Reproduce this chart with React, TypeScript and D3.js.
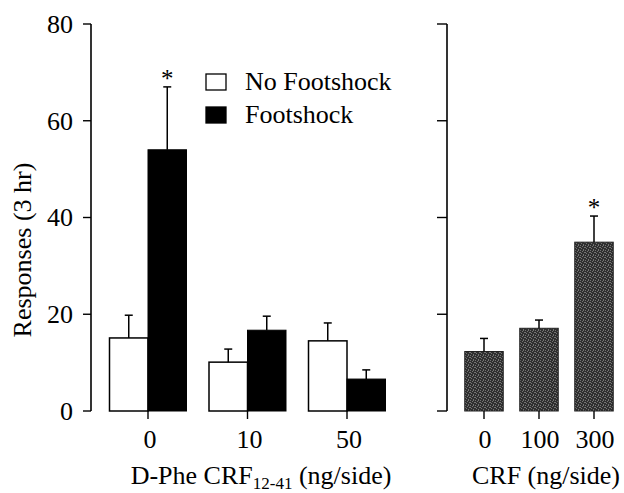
import React from "react";
import * as d3 from "d3";

const leftCategories = ["0", "10", "50"];
const noFootshock = [15.1, 10.1, 14.5];
const noFootshockSem = [4.7, 2.7, 3.7];
const footshock = [54.0, 16.7, 6.6];
const footshockSem = [13.0, 2.9, 1.9];
const noFootshockStars = [false, false, false];
const footshockStars = [true, false, false];

const rightCategories = ["0", "100", "300"];
const crf = [12.3, 17.1, 34.9];
const crfSem = [2.7, 1.7, 5.4];
const crfStars = [false, false, true];

const yTicks = [0, 20, 40, 60, 80];
const legendLabels = ["No Footshock", "Footshock"];

const FONT = "Liberation Serif";
const T = (size: number) => ({ fontFamily: FONT, fontSize: size });

const y = d3.scaleLinear().domain([0, 80]).range([411, 24]);
const xl = d3.scalePoint<string>().domain(leftCategories).range([148, 347]);
const xr = d3.scalePoint<string>().domain(rightCategories).range([484, 594]);
const bw = 38.5;

function ErrBar({ cx, v, sem, star }: { cx: number; v: number; sem: number; star: boolean }) {
  const top = y(v + sem);
  return (
    <g>
      <line x1={cx} x2={cx} y1={y(v)} y2={top} stroke="#000" strokeWidth={1.5} />
      <line x1={cx - 4} x2={cx + 4} y1={top} y2={top} stroke="#000" strokeWidth={1.5} />
      {star && (
        <text x={cx} y={top} textAnchor="middle" style={T(25)}>
          *
        </text>
      )}
    </g>
  );
}

function Axis({ x, tickLen, labels }: { x: number; tickLen: number; labels: boolean }) {
  return (
    <g>
      <line x1={x} x2={x} y1={y(0)} y2={y(80)} stroke="#000" strokeWidth={1.6} />
      {yTicks.map((t) => (
        <g key={t}>
          <line x1={x - tickLen} x2={x} y1={y(t)} y2={y(t)} stroke="#000" strokeWidth={1.4} />
          {labels && (
            <text x={x - tickLen - 10} y={y(t)} dy="0.34em" textAnchor="end" style={T(26)}>
              {t}
            </text>
          )}
        </g>
      ))}
    </g>
  );
}

export default function App() {
  const dots = [
    [0, 0], [2, 1], [4, 2], [1, 3], [3, 4], [0, 2], [3, 0],
  ];
  const legendFills = ["#fff", "#000"];
  return (
    <svg
      width={624}
      height={493}
      style={{ position: "absolute", left: 0, top: 0, background: "#fff", display: "block" }}
    >
      <defs>
        <pattern id="speckle" patternUnits="userSpaceOnUse" width={5} height={5}>
          <rect width={5} height={5} fill="#2f2f2f" />
          {dots.map(([dx, dy], i) => (
            <rect key={i} x={dx} y={dy} width={1} height={1} fill="#747474" />
          ))}
        </pattern>
      </defs>

      <Axis x={91} tickLen={8} labels={true} />
      <Axis x={447} tickLen={10} labels={false} />

      {leftCategories.map((c, i) => {
        const cx = xl(c)!;
        return (
          <g key={c}>
            <rect x={cx - bw} y={y(noFootshock[i])} width={bw} height={y(0) - y(noFootshock[i])}
              fill="#fff" stroke="#000" strokeWidth={1.5} />
            <ErrBar cx={cx - bw / 2} v={noFootshock[i]} sem={noFootshockSem[i]} star={noFootshockStars[i]} />
            <rect x={cx} y={y(footshock[i])} width={bw} height={y(0) - y(footshock[i])}
              fill="#000" stroke="#000" strokeWidth={1} />
            <ErrBar cx={cx + bw / 2} v={footshock[i]} sem={footshockSem[i]} star={footshockStars[i]} />
            <line x1={cx} x2={cx} y1={y(0)} y2={y(0) + 8} stroke="#000" strokeWidth={1.4} />
            <text x={cx + 2} y={448} textAnchor="middle" style={T(26)}>{c}</text>
          </g>
        );
      })}

      {rightCategories.map((c, i) => {
        const cx = xr(c)!;
        return (
          <g key={c}>
            <rect x={cx - bw / 2} y={y(crf[i])} width={bw} height={y(0) - y(crf[i])}
              fill="url(#speckle)" stroke="#222" strokeWidth={1} />
            <ErrBar cx={cx} v={crf[i]} sem={crfSem[i]} star={crfStars[i]} />
            <line x1={cx} x2={cx} y1={y(0)} y2={y(0) + 8} stroke="#000" strokeWidth={1.4} />
            <text x={cx + 1} y={448} textAnchor="middle" style={T(26)}>{c}</text>
          </g>
        );
      })}

      {legendLabels.map((lab, i) => {
        const ly = 74 + i * 33;
        return (
          <g key={lab}>
            <rect x={206} y={ly} width={20} height={16} fill={legendFills[i]} stroke="#000" strokeWidth={1.3} />
            <text x={245} y={ly + 16} style={T(26)}>{lab}</text>
          </g>
        );
      })}

      <text transform="translate(31,250) rotate(-90)" textAnchor="middle" style={T(26)}>
        Responses (3 hr)
      </text>

      <text x={261} y={484} textAnchor="middle" style={T(26)}>
        <tspan>D-Phe CRF</tspan>
        <tspan dy={5} style={{ fontSize: 17 }}>12-41</tspan>
        <tspan dy={-5}> (ng/side)</tspan>
      </text>
      <text x={546} y={484} textAnchor="middle" style={T(26)}>
        CRF (ng/side)
      </text>
    </svg>
  );
}
